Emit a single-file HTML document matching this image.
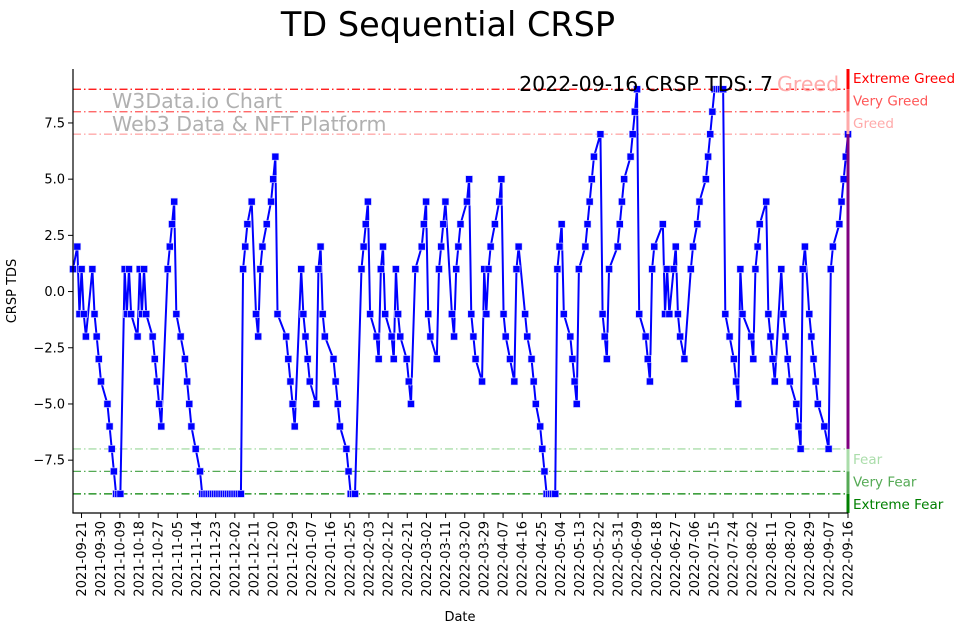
<!DOCTYPE html>
<html><head><meta charset="utf-8"><style>
html,body{margin:0;padding:0;background:#fff;}
svg{display:block;font-family:"DejaVu Sans","Liberation Sans",sans-serif;}
</style></head><body>
<svg id="chart" width="967" height="633" viewBox="0 0 967 633">
<text x="448" y="36" font-size="33.5" text-anchor="middle">TD Sequential CRSP</text>
<g id="grid"></g>
<g id="series"></g>
<g id="axes"></g>
<text x="112" y="108" font-size="20.5" fill="#b0b0b0">W3Data.io Chart</text>
<text x="112" y="131" font-size="20.5" fill="#b0b0b0">Web3 Data &amp; NFT Platform</text>
<text x="773" y="91" font-size="20.5" text-anchor="end" fill="#000">2022-09-16 CRSP TDS: 7</text>
<text x="777" y="91" font-size="20.5" fill="#ffaaaa">Greed</text>
<text x="16" y="291" font-size="13" text-anchor="middle" transform="rotate(-90 16 291)">CRSP TDS</text>
<text x="460" y="621" font-size="13" text-anchor="middle">Date</text>
</svg>
<script>
const days = [0,2,3,4,5,6,9,10,11,12,13,16,17,18,19,20,21,22,24,25,26,27,30,31,32,33,34,37,38,39,40,41,44,45,46,47,48,50,52,53,54,55,57,59,60,61,62,63,64,65,66,67,68,69,70,71,72,73,74,75,76,77,78,79,80,81,83,85,86,87,88,90,92,93,94,95,99,100,101,102,103,106,107,108,109,110,113,114,115,116,117,121,122,123,124,127,128,129,130,131,134,135,136,137,138,141,142,143,144,145,148,149,150,151,152,155,156,157,159,162,163,164,165,166,169,170,171,172,173,176,177,178,179,180,183,184,185,186,187,190,191,192,193,194,196,198,199,200,201,203,205,206,207,210,211,213,214,215,217,218,219,220,221,222,223,224,225,226,227,228,231,232,233,234,235,238,239,240,241,242,245,246,247,248,249,253,254,255,256,259,260,261,262,263,266,267,268,269,270,274,275,276,277,279,280,281,282,284,287,288,290,291,294,295,296,297,298,299,300,301,302,303,305,307,308,309,310,311,315,316,317,318,319,322,323,324,325,326,329,330,331,332,333,336,337,338,339,340,342,343,344,345,346,349,351,352,353,356,357,358,359,360];
const tds = [1,2,-1,1,-1,-2,1,-1,-2,-3,-4,-5,-6,-7,-8,-9,-9,-9,1,-1,1,-1,-2,1,-1,1,-1,-2,-3,-4,-5,-6,1,2,3,4,-1,-2,-3,-4,-5,-6,-7,-8,-9,-9,-9,-9,-9,-9,-9,-9,-9,-9,-9,-9,-9,-9,-9,-9,-9,-9,-9,1,2,3,4,-1,-2,1,2,3,4,5,6,-1,-2,-3,-4,-5,-6,1,-1,-2,-3,-4,-5,1,2,-1,-2,-3,-4,-5,-6,-7,-8,-9,-9,-9,1,2,3,4,-1,-2,-3,1,2,-1,-2,-3,1,-1,-2,-3,-4,-5,1,2,3,4,-1,-2,-3,1,2,3,4,-1,-2,1,2,3,4,5,-1,-2,-3,-4,1,-1,1,2,3,4,5,-1,-2,-3,-4,1,2,-1,-2,-3,-4,-5,-6,-7,-8,-9,-9,-9,-9,-9,1,2,3,-1,-2,-3,-4,-5,1,2,3,4,5,6,7,-1,-2,-3,1,2,3,4,5,6,7,8,9,-1,-2,-3,-4,1,2,3,-1,1,-1,1,2,-1,-2,-3,1,2,3,4,5,6,7,8,9,9,9,9,9,-1,-2,-3,-4,-5,1,-1,-2,-3,1,2,3,4,-1,-2,-3,-4,1,-1,-2,-3,-4,-5,-6,-7,1,2,-1,-2,-3,-4,-5,-6,-7,1,2,3,4,5,6,7];
const tickLabels = ["2021-09-21","2021-09-30","2021-10-09","2021-10-18","2021-10-27","2021-11-05","2021-11-14","2021-11-23","2021-12-02","2021-12-11","2021-12-20","2021-12-29","2022-01-07","2022-01-16","2022-01-25","2022-02-03","2022-02-12","2022-02-21","2022-03-02","2022-03-11","2022-03-20","2022-03-29","2022-04-07","2022-04-16","2022-04-25","2022-05-04","2022-05-13","2022-05-22","2022-05-31","2022-06-09","2022-06-18","2022-06-27","2022-07-06","2022-07-15","2022-07-24","2022-08-02","2022-08-11","2022-08-20","2022-08-29","2022-09-07","2022-09-16"];
const yTicks = [-7.5,-5,-2.5,0,2.5,5,7.5];
const yTickLabels = ["\u22127.5","\u22125.0","\u22122.5","0.0","2.5","5.0","7.5"];
const zoneLevels = [9,8,7,-7,-8,-9];
const zoneNames = ["Extreme Greed","Very Greed","Greed","Fear","Very Fear","Extreme Fear"];
const zoneColors = ["#ff0000","#ff5555","#ffaaaa","#aaddaa","#55aa55","#008000"];

const NS = "http://www.w3.org/2000/svg";
const L = 73, R = 848, T = 69, B = 513;
const yMin = -9.85, yMax = 9.9;
const startDate = new Date("2021-09-17T00:00:00Z");
const dayScale = 360/364;
function xScale(d){ return L + d*(R-L)/360; }
function yScale(v){ return B - (v-yMin)*(B-T)/(yMax-yMin); }
function mk(tag, attrs, parent){ const e=document.createElementNS(NS,tag); for(const k in attrs) e.setAttribute(k,attrs[k]); parent.appendChild(e); return e; }

const grid = document.getElementById('grid');
const axes = document.getElementById('axes');
const series = document.getElementById('series');

zoneLevels.forEach((lv,i)=>{
  const y = yScale(lv);
  const ln = mk('line',{x1:L,x2:R,y1:y,y2:y,stroke:zoneColors[i],'stroke-width':1.3,'stroke-dasharray':'8 3 1.5 3'},grid);
  
  
  const t = mk('text',{x:853,y:(i<3? yScale(lv)-6 : yScale(lv)+15),'font-size':13.5,fill:zoneColors[i]},axes);
  t.textContent = zoneNames[i];
  
  
});
const segs = [[yMax,9,"#ff0000"],[9,8,"#ff5555"],[8,7,"#ffaaaa"],[7,-7,"#800080"],[-7,-8,"#aaddaa"],[-8,-9,"#55aa55"],[-9,yMin,"#008000"]];
segs.forEach((s)=>{
  const r = mk('rect',{x:R-1.5,y:yScale(s[0]),width:3,height:yScale(s[1])-yScale(s[0]),fill:s[2]},axes);
  
  
});

let d = '';
days.forEach((dd,i)=>{ d += (i?'L':'M') + xScale(dd).toFixed(2) + ' ' + yScale(tds[i]).toFixed(2); });
const path = mk('path',{d:d,fill:'none',stroke:'#0000ff','stroke-width':2,'stroke-linejoin':'round'},series);


days.forEach((dd,i)=>{
  const x = xScale(dd), y = yScale(tds[i]);
  const m = mk('rect',{x:x-3.5,y:y-3.5,width:7,height:7,fill:'#0000ff',stroke:'#d8d8ff','stroke-width':0.6},series);
  
  
});

const sl = mk('line',{x1:L,x2:L,y1:T,y2:B,stroke:'#000','stroke-width':1.2},axes);


const sb = mk('line',{x1:L-0.6,x2:R,y1:B,y2:B,stroke:'#000','stroke-width':1.2},axes);



yTicks.forEach((v,i)=>{
  const y = yScale(v);
  const tk = mk('line',{x1:L-5,x2:L,y1:y,y2:y,stroke:'#000','stroke-width':1},axes);
  
  
  const t = mk('text',{x:L-8,y:y+4.5,'font-size':13,'text-anchor':'end'},axes);
  t.textContent = yTickLabels[i];
  
  
});

tickLabels.forEach((lab)=>{
  const td = (new Date(lab+"T00:00:00Z") - startDate)/86400000;
  const x = xScale(td*dayScale);
  const tk = mk('line',{x1:x,x2:x,y1:B,y2:B+5,stroke:'#000','stroke-width':1},axes);
  
  
  const t = mk('text',{x:x+4.5,y:B+8,'font-size':13,'text-anchor':'end',transform:'rotate(-90 '+(x+4.5)+' '+(B+8)+')'},axes);
  t.textContent = lab;
  
  
});
</script>
</body></html>
